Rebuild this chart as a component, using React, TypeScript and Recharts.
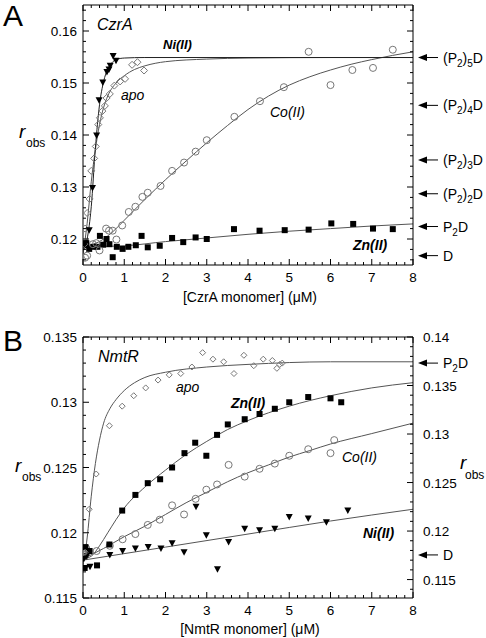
import React from 'react'
import { ComposedChart, Line, Scatter, XAxis, YAxis, ReferenceDot } from 'recharts'

const FONT = 'Arial, "Liberation Sans", Helvetica, sans-serif'

// ---- Panel A: CzrA (x in µM, y = r_obs) ----
const czrApo: [number, number][] = [
  [0.03, 0.119], [0.05, 0.122], [0.1, 0.125], [0.16, 0.1277], [0.2, 0.1331], [0.27, 0.1355],
  [0.31, 0.1378], [0.37, 0.142], [0.41, 0.1433], [0.47, 0.1446], [0.53, 0.1456], [0.57, 0.1471],
  [0.65, 0.1479], [0.76, 0.1495], [0.9, 0.1503], [1.02, 0.1508], [1.19, 0.1535], [1.32, 0.154],
  [1.48, 0.1524],
]
const czrNi: [number, number][] = [
  [0.05, 0.1192], [0.15, 0.1217], [0.23, 0.1298], [0.33, 0.1399], [0.39, 0.1467], [0.48, 0.1501],
  [0.58, 0.1521], [0.63, 0.1526], [0.66, 0.1533], [0.73, 0.1552], [0.8, 0.1543],
]
const czrCo: [number, number][] = [
  [0.05, 0.1164], [0.1, 0.1168], [0.24, 0.119], [0.32, 0.1192], [0.4, 0.1178], [0.56, 0.122],
  [0.63, 0.1216], [0.72, 0.1216], [0.81, 0.1199], [0.95, 0.1226], [1.11, 0.1252], [1.27, 0.1262],
  [1.44, 0.1281], [1.57, 0.1289], [1.88, 0.1302], [2.16, 0.1331], [2.45, 0.1347], [2.73, 0.1368],
  [3.0, 0.139], [3.67, 0.1435], [4.29, 0.1465], [4.87, 0.1492], [5.47, 0.156], [6.0, 0.1496],
  [6.53, 0.1525], [7.03, 0.1529], [7.51, 0.1564],
]
const czrZn: [number, number][] = [
  [0.03, 0.1188], [0.08, 0.1192], [0.15, 0.1181], [0.25, 0.1185], [0.35, 0.1185], [0.41, 0.1206],
  [0.49, 0.1189], [0.57, 0.12], [0.64, 0.119], [0.72, 0.1165], [0.82, 0.1185], [0.96, 0.1181],
  [1.1, 0.1185], [1.28, 0.1188], [1.42, 0.1206], [1.57, 0.1184], [1.86, 0.1187], [2.16, 0.1202],
  [2.43, 0.1194], [2.73, 0.1203], [3.0, 0.12], [3.66, 0.1219], [4.28, 0.1216], [4.89, 0.1217],
  [5.47, 0.1218], [6.02, 0.123], [6.55, 0.1229], [7.03, 0.122], [7.51, 0.1219],
]
// fitted curves
const czrApoFit: [number, number][] = [
  [0, 0.117], [0.1, 0.123], [0.2, 0.131], [0.3, 0.1372], [0.4, 0.142], [0.5, 0.1453], [0.6, 0.1475],
  [0.8, 0.15], [1, 0.1514], [1.25, 0.1526], [1.5, 0.1533], [2, 0.1541], [3, 0.1546], [4, 0.1548],
  [6, 0.1549], [8, 0.1549],
]
const czrNiFit: [number, number][] = [
  [0, 0.1178], [0.1, 0.12], [0.2, 0.1262], [0.3, 0.1375], [0.4, 0.1458], [0.5, 0.1503], [0.6, 0.1527],
  [0.7, 0.1539], [0.8, 0.1545], [1, 0.1548], [1.5, 0.1549], [8, 0.1549],
]
const czrCoFit: [number, number][] = [
  [0, 0.1186], [0.25, 0.119], [0.5, 0.12], [0.75, 0.1216], [1, 0.1236], [1.5, 0.1276], [2, 0.1314],
  [2.5, 0.135], [3, 0.1385], [3.5, 0.1418], [4, 0.1449], [4.5, 0.1475], [5, 0.1496], [5.5, 0.1512],
  [6, 0.1525], [6.5, 0.1536], [7, 0.1545], [7.5, 0.1553], [8, 0.156],
]
const czrZnFit: [number, number][] = [
  [0, 0.1189], [0.5, 0.1186], [1, 0.1187], [2, 0.1195], [3, 0.1202], [4, 0.1209], [5, 0.1215],
  [6, 0.122], [7, 0.1225], [8, 0.1229],
]
const czrStates: [string, number][] = [
  ['(P_2)_5D', 0.1549], ['(P_2)_4D', 0.1457], ['(P_2)_3D', 0.1352], ['(P_2)_2D', 0.1287],
  ['P_2D', 0.1224], ['D', 0.1168],
]

// ---- Panel B: NmtR ----
const nmtApo: [number, number][] = [
  [0.05, 0.1185], [0.15, 0.1218], [0.32, 0.1245], [0.64, 0.1282], [0.95, 0.1297], [1.23, 0.1305],
  [1.52, 0.1311], [1.82, 0.1317], [2.09, 0.1321], [2.37, 0.1322], [2.64, 0.1327], [2.9, 0.1338],
  [3.15, 0.1333], [3.41, 0.1331], [3.66, 0.1322], [3.9, 0.1336], [4.14, 0.1328], [4.37, 0.1333],
  [4.59, 0.1332], [4.7, 0.1326], [4.77, 0.1329], [4.83, 0.133],
]
const nmtZn: [number, number][] = [
  [0.04, 0.1173], [0.06, 0.1189], [0.16, 0.1186], [0.34, 0.1175], [0.64, 0.1191], [0.95, 0.1217],
  [1.27, 0.1229], [1.57, 0.1238], [1.87, 0.1241], [2.16, 0.125], [2.46, 0.1261], [2.72, 0.1269],
  [2.99, 0.1259], [3.25, 0.1275], [3.51, 0.1283], [3.92, 0.1287], [4.28, 0.1291], [4.65, 0.1295],
  [5.0, 0.13], [5.46, 0.1304], [6.0, 0.1303], [6.26, 0.13],
]
const nmtCo: [number, number][] = [
  [0.03, 0.1186], [0.08, 0.1188], [0.33, 0.1186], [0.65, 0.119], [0.96, 0.1195], [1.27, 0.1199],
  [1.57, 0.1206], [1.86, 0.121], [2.16, 0.1221], [2.45, 0.1214], [2.73, 0.1226], [2.99, 0.1233],
  [3.25, 0.1237], [3.53, 0.1252], [3.92, 0.1243], [4.28, 0.1249], [4.65, 0.1253], [5.0, 0.1259],
  [5.46, 0.1264], [6.0, 0.1261], [6.09, 0.1271],
]
const nmtNi: [number, number][] = [
  [0.02, 0.118], [0.06, 0.1173], [0.09, 0.1182], [0.17, 0.1174], [0.65, 0.1183], [0.96, 0.1186],
  [1.27, 0.1188], [1.58, 0.1189], [1.89, 0.1188], [2.16, 0.1192], [2.45, 0.1185], [2.74, 0.122],
  [2.99, 0.1198], [3.26, 0.1172], [3.53, 0.1193], [3.92, 0.1203], [4.28, 0.1202], [4.65, 0.1203],
  [5.0, 0.1212], [5.46, 0.1211], [5.9, 0.1208], [6.42, 0.1217],
]
const nmtApoFit: [number, number][] = [
  [0, 0.1175], [0.1, 0.1196], [0.2, 0.1228], [0.3, 0.1253], [0.4, 0.1271], [0.5, 0.1284],
  [0.65, 0.1295], [0.8, 0.1302], [1, 0.1309], [1.25, 0.1315], [1.5, 0.1319], [2, 0.1323],
  [3, 0.1327], [4, 0.1329], [6, 0.1331], [8, 0.1331],
]
const nmtZnFit: [number, number][] = [
  [0, 0.118], [0.2, 0.1182], [0.4, 0.119], [0.6, 0.12], [0.8, 0.121], [1, 0.1219], [1.5, 0.1235],
  [2, 0.1248], [2.5, 0.126], [3, 0.127], [3.5, 0.1279], [4, 0.1286], [5, 0.1297], [6, 0.1305],
  [7, 0.1311], [8, 0.1315],
]
const nmtCoFit: [number, number][] = [
  [0, 0.118], [0.5, 0.1188], [1, 0.1197], [1.5, 0.1205], [2, 0.1214], [2.5, 0.1223], [3, 0.1231],
  [3.5, 0.1239], [4, 0.1246], [4.5, 0.1252], [5, 0.1258], [5.5, 0.1263], [6, 0.1268], [7, 0.1276],
  [8, 0.1284],
]
const nmtNiFit: [number, number][] = [
  [0, 0.1179], [2, 0.1189], [4, 0.1199], [6, 0.1209], [8, 0.1218],
]
const nmtStates: [string, number][] = [['P_2D', 0.133], ['D', 0.1183]]

// ---- ticks ----
const xMajor = [0, 1, 2, 3, 4, 5, 6, 7, 8]
const czrMajor = [0.12, 0.13, 0.14, 0.15, 0.16]
const nmtMajor = [0.115, 0.12, 0.125, 0.13, 0.135]
const nmtRightMajor = [0.115, 0.12, 0.125, 0.13, 0.135, 0.14]

function steps(from: number, to: number, step: number) {
  const out: number[] = []
  for (let v = from; v <= to + step / 2; v += step) out.push(Math.round(v * 10000) / 10000)
  return out
}
const xTicks = steps(0, 8, 0.2)
const czrTicks = steps(0.116, 0.164, 0.002)
const nmtTicks = steps(0.115, 0.135, 0.001)
const nmtRightTicks = steps(0.114, 0.14, 0.001)

const pts = (a: [number, number][]) => a.map(([x, y]) => ({ x, y }))
const fmt = (v: number) => String(Number(v.toFixed(3)))

// text with "_x" subscripts
function rich(s: string, sub = 10) {
  const out: React.ReactNode[] = []
  let down = false
  for (let i = 0; i < s.length; i++) {
    if (s[i] === '_') {
      out.push(<tspan key={i} dy={4} fontSize={sub}>{s[i + 1]}</tspan>)
      down = true
      i++
    } else {
      out.push(<tspan key={i} dy={down ? -4 : 0}>{s[i]}</tspan>)
      down = false
    }
  }
  return out
}

type Side = 'bottom' | 'top' | 'left' | 'right'
function axisTick(side: Side, major: number[], labels: boolean) {
  return (p: any) => {
    const v = Number(p.payload?.value)
    const big = major.some((m) => Math.abs(m - v) < 1e-7)
    const len = big ? 6 : 3
    const x = Number(p.x)
    const y = Number(p.y)
    let x2 = x
    let y2 = y
    if (side === 'bottom') y2 = y - len
    if (side === 'top') y2 = y + len
    if (side === 'left') x2 = x + len
    if (side === 'right') x2 = x - len
    let label = null
    if (labels && big) {
      const common = { fontFamily: FONT, fontSize: 13.5, fill: '#000' }
      if (side === 'bottom')
        label = <text x={x} y={y + 17} textAnchor='middle' {...common}>{fmt(v)}</text>
      if (side === 'left')
        label = <text x={x - 6} y={y + 5} textAnchor='end' {...common}>{fmt(v)}</text>
      if (side === 'right')
        label = <text x={x + 10} y={y + 5} textAnchor='start' {...common}>{fmt(v)}</text>
    }
    return (
      <g>
        <line x1={x} y1={y} x2={x2} y2={y2} stroke='#000' strokeWidth={1} />
        {label}
      </g>
    )
  }
}

// markers
const openCircle = (p: any) => (
  <circle cx={p.cx} cy={p.cy} r={3.5} fill='none' stroke='#777' strokeWidth={1} />
)
const openDiamond = (s: number) => (p: any) => (
  <path
    d={`M${p.cx},${p.cy - s}L${p.cx + s},${p.cy}L${p.cx},${p.cy + s}L${p.cx - s},${p.cy}Z`}
    fill='none'
    stroke='#777'
    strokeWidth={1}
  />
)
const square = (p: any) => <rect x={p.cx - 3} y={p.cy - 3} width={6} height={6} fill='#000' />
const triDown = (p: any) => (
  <path d={`M${p.cx - 3.5},${p.cy - 3}L${p.cx + 3.5},${p.cy - 3}L${p.cx},${p.cy + 3.5}Z`} fill='#000' />
)

const stateArrow = (label: string) => (p: any) => {
  const x = p.cx + 5
  const y = p.cy
  return (
    <g>
      <path d={`M${x},${y}L${x + 9},${y - 3.5}L${x + 9},${y + 3.5}Z`} fill='#000' />
      <line x1={x + 8} y1={y} x2={x + 20} y2={y} stroke='#000' strokeWidth={1} />
      <text x={x + 25} y={y + 5} fontFamily={FONT} fontSize={14} fill='#000'>
        {rich(label)}
      </text>
    </g>
  )
}

function fit(data: [number, number][], color = '#555') {
  return (
    <Line
      data={pts(data)}
      dataKey='y'
      type='monotone'
      stroke={color}
      strokeWidth={1}
      dot={false}
      activeDot={false}
      isAnimationActive={false}
    />
  )
}

const axisCommon = {
  type: 'number' as const,
  interval: 0 as const,
  tickSize: 0,
  tickMargin: 0,
  tickLine: false,
  stroke: '#000',
  allowDataOverflow: true,
}

function CzrAPanel() {
  return (
    <ComposedChart width={486} height={320} margin={{ top: 4, right: 0, bottom: 0, left: 0 }}>
      <XAxis {...axisCommon} dataKey='x' domain={[0, 8]} ticks={xTicks} height={55}
        tick={axisTick('bottom', xMajor, true)} />
      <XAxis {...axisCommon} xAxisId='top' orientation='top' dataKey='x' domain={[0, 8]} ticks={xTicks}
        height={1} tick={axisTick('top', xMajor, false)} />
      <YAxis {...axisCommon} dataKey='y' domain={[0.115, 0.165]} ticks={czrTicks} width={83}
        tick={axisTick('left', czrMajor, true)} />
      <YAxis {...axisCommon} yAxisId='r' orientation='right' dataKey='y' domain={[0.115, 0.165]}
        ticks={czrTicks} width={73} tick={axisTick('right', czrMajor, false)} />
      {fit(czrZnFit)}
      {fit(czrCoFit)}
      {fit(czrApoFit)}
      {fit(czrNiFit, '#222')}
      <Scatter data={pts(czrZn)} shape={square} isAnimationActive={false} />
      <Scatter data={pts(czrCo)} shape={openCircle} isAnimationActive={false} />
      <Scatter data={pts(czrApo)} shape={openDiamond(3.5)} isAnimationActive={false} />
      <Scatter data={pts(czrNi)} shape={triDown} isAnimationActive={false} />
      {czrStates.map(([label, v]) => (
        <ReferenceDot key={label} x={8} y={v} r={0} ifOverflow='visible' shape={stateArrow(label)} />
      ))}
    </ComposedChart>
  )
}

function NmtRPanel() {
  return (
    <ComposedChart width={486} height={318} margin={{ top: 16, right: 0, bottom: 0, left: 0 }}>
      <XAxis {...axisCommon} dataKey='x' domain={[0, 8]} ticks={xTicks} height={40}
        tick={axisTick('bottom', xMajor, true)} />
      <XAxis {...axisCommon} xAxisId='top' orientation='top' dataKey='x' domain={[0, 8]} ticks={xTicks}
        height={1} tick={axisTick('top', xMajor, false)} />
      <YAxis {...axisCommon} dataKey='y' domain={[0.115, 0.135]} ticks={nmtTicks} width={83}
        tick={axisTick('left', nmtMajor, true)} />
      <YAxis {...axisCommon} yAxisId='r' orientation='right' dataKey='y' domain={[0.1131, 0.14]}
        ticks={nmtRightTicks} width={73} tick={axisTick('right', nmtRightMajor, true)} />
      {fit(nmtNiFit)}
      {fit(nmtCoFit)}
      {fit(nmtZnFit)}
      {fit(nmtApoFit)}
      <Scatter data={pts(nmtNi)} shape={triDown} isAnimationActive={false} />
      <Scatter data={pts(nmtCo)} shape={openCircle} isAnimationActive={false} />
      <Scatter data={pts(nmtZn)} shape={square} isAnimationActive={false} />
      <Scatter data={pts(nmtApo)} shape={openDiamond(3)} isAnimationActive={false} />
      {nmtStates.map(([label, v]) => (
        <ReferenceDot key={label} x={8} y={v} r={0} ifOverflow='visible' shape={stateArrow(label)} />
      ))}
    </ComposedChart>
  )
}

export default function App() {
  const t = { fontFamily: FONT, fill: '#000' }
  return (
    <div style={{ position: 'relative', width: 486, height: 638, background: '#fff' }}>
      <style>{'body{margin:0;background:#fff}'}</style>
      <div style={{ position: 'absolute', left: 0, top: 0 }}>
        <CzrAPanel />
      </div>
      <div style={{ position: 'absolute', left: 0, top: 320 }}>
        <NmtRPanel />
      </div>
      <svg width={486} height={638} style={{ position: 'absolute', left: 0, top: 0, pointerEvents: 'none' }}>
        {/* panel A */}
        <text x={3} y={26} fontSize={30} {...t}>A</text>
        <text x={97} y={30} fontSize={16} fontStyle='italic' {...t}>CzrA</text>
        <text x={163} y={49} fontSize={13} fontStyle='italic' fontWeight='bold' {...t}>Ni(II)</text>
        <text x={121} y={100} fontSize={14} fontStyle='italic' {...t}>apo</text>
        <text x={270} y={117} fontSize={14} fontStyle='italic' {...t}>Co(II)</text>
        <text x={353} y={250} fontSize={14} fontStyle='italic' fontWeight='bold' {...t}>Zn(II)</text>
        <text x={19} y={138} fontSize={19} fontStyle='italic' {...t}>r</text>
        <text x={26} y={147} fontSize={12} {...t}>obs</text>
        <text x={250} y={302} fontSize={14} textAnchor='middle' {...t}>[CzrA monomer] (μM)</text>
        {/* panel B */}
        <text x={3} y={351} fontSize={30} {...t}>B</text>
        <text x={98} y={362} fontSize={16} fontStyle='italic' {...t}>NmtR</text>
        <text x={176} y={392} fontSize={14} fontStyle='italic' {...t}>apo</text>
        <text x={231} y={408} fontSize={14} fontStyle='italic' fontWeight='bold' {...t}>Zn(II)</text>
        <text x={342} y={462} fontSize={14} fontStyle='italic' {...t}>Co(II)</text>
        <text x={363} y={538} fontSize={14} fontStyle='italic' fontWeight='bold' {...t}>Ni(II)</text>
        <text x={15} y={472} fontSize={19} fontStyle='italic' {...t}>r</text>
        <text x={22} y={481} fontSize={12} {...t}>obs</text>
        <text x={460} y={469} fontSize={19} fontStyle='italic' {...t}>r</text>
        <text x={465} y={479} fontSize={12} {...t}>obs</text>
        <text x={250} y={634} fontSize={14} textAnchor='middle' {...t}>[NmtR monomer] (μM)</text>
      </svg>
    </div>
  )
}
